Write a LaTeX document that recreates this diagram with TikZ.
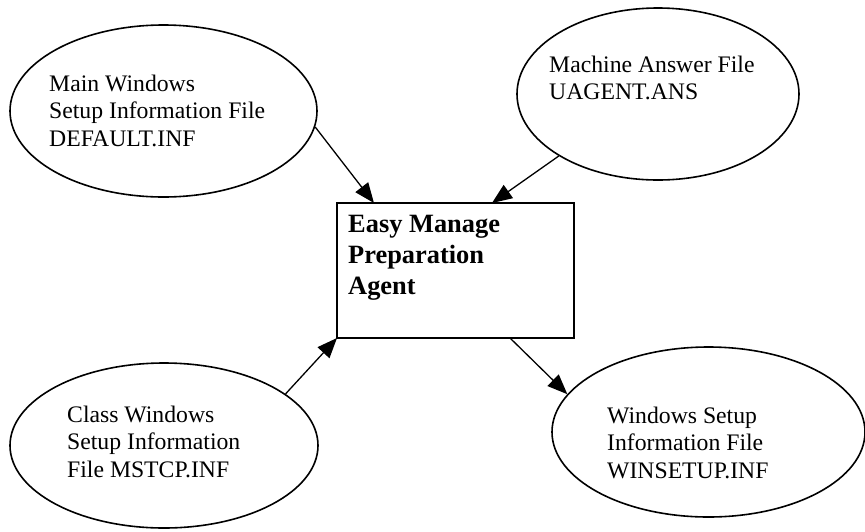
\documentclass[tikz,border=0pt]{standalone}
\usepackage{fontspec}
\setmainfont{Liberation Serif}
\usetikzlibrary{shapes.geometric,arrows.meta,calc}
\begin{document}
\begin{tikzpicture}[x=1pt,y=-1pt,
  fileell/.style={draw,ellipse,line width=1.6pt,inner sep=0pt},
  ftext/.style={anchor=base west,inner sep=0pt,align=left,
    font=\fontsize{23.7pt}{27.5pt}\selectfont},
  btext/.style={anchor=base west,inner sep=0pt,align=left,
    font=\fontsize{26.4pt}{31pt}\selectfont\bfseries},
  agentbox/.style={draw,line width=1.4pt},
  conn/.style={line width=1.3pt,-{Triangle[length=20pt,width=16pt]}}]
\useasboundingbox (0,0) rectangle (865,531);
% ellipses
\node[fileell,minimum width=307pt,minimum height=172pt] (e1) at (163.5,111) {};
\node[fileell,minimum width=282pt,minimum height=172pt] (e2) at (658,94) {};
\node[fileell,minimum width=308pt,minimum height=165pt] (e3) at (164,445.5) {};
\node[fileell,minimum width=313pt,minimum height=170pt] (e4) at (708.5,432) {};
% central box
\draw[agentbox] (337,203) rectangle (574,338);
\coordinate (rnw) at (337,203);
\coordinate (rne) at (574,203);
\coordinate (rsw) at (337,338);
\coordinate (rse) at (574,338);
% texts (base = baseline of last line)
\node[ftext] (t1) at (49,146) {Main Windows\\Setup Information File\\DEFAULT.INF};
\node[ftext] (t2) at (549,99.5) {Machine Answer File\\UAGENT.ANS};
\node[ftext] (t3) at (67,477) {Class Windows\\Setup Information\\File MSTCP.INF};
\node[ftext] (t4) at (607,478) {Windows Setup\\Information File\\WINSETUP.INF};
\node[btext] (ta) at (348,294) {Easy Manage\\Preparation\\Agent};
% connectors
\draw[conn] (e1.-6.5) -- ($(rnw)!0.156!(rne)$);
\draw[conn] (e2.212.7) -- ($(rnw)!0.654!(rne)$);
\draw[conn] (e3.23.5) -- (rsw);
\draw[conn] ($(rsw)!0.73!(rse)$) -- (e4.165.3);
\end{tikzpicture}
\end{document}
